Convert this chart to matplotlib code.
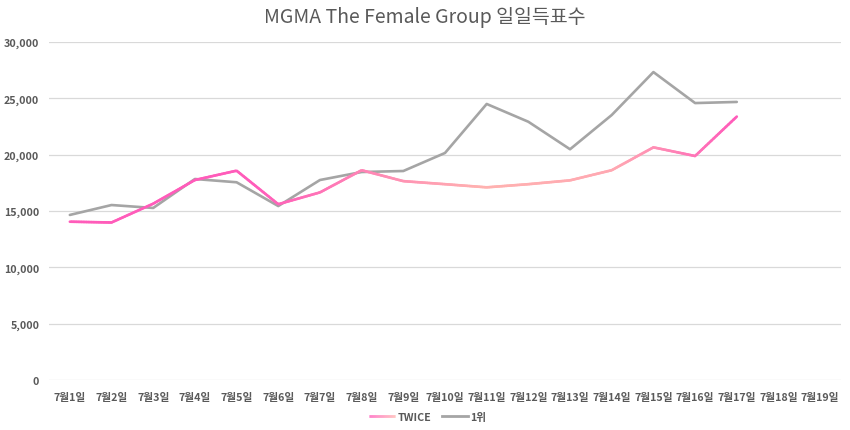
import numpy as np
import matplotlib
matplotlib.use("Agg")
import matplotlib.pyplot as plt
from matplotlib.collections import LineCollection
from matplotlib.colors import LinearSegmentedColormap
from matplotlib.legend_handler import HandlerLineCollection
from matplotlib.lines import Line2D

plt.rcParams['font.family'] = ['Noto Sans CJK KR', 'DejaVu Sans']

categories = ["7월1일", "7월2일", "7월3일", "7월4일", "7월5일", "7월6일", "7월7일", "7월8일",
              "7월9일", "7월10일", "7월11일", "7월12일", "7월13일", "7월14일", "7월15일",
              "7월16일", "7월17일", "7월18일", "7월19일"]
twice = [14050, 13980, 15650, 17750, 18580, 15600, 16650, 18620, 17650, 17380, 17100,
         17380, 17720, 18620, 20650, 19880, 23380]
first = [14650, 15530, 15270, 17840, 17550, 15440, 17750, 18460, 18550, 20150, 24500,
         22920, 20480, 23520, 27330, 24580, 24680]
yticks = [0, 5000, 10000, 15000, 20000, 25000, 30000]
title = "MGMA The Female Group 일일득표수"

text_col = "#595959"
gray = "#A5A5A5"
cmap = LinearSegmentedColormap.from_list(
    "tw", [(0.0, "#FF5CBA"), (0.28, "#FF5CBA"), (0.62, "#FFB2B0"),
           (0.82, "#FFA8B2"), (1.0, "#FF5CBA")])

fig = plt.figure(figsize=(8.5, 4.31), dpi=100)
ax = fig.add_axes([49/850, 1-381/431, (841-49)/850, (381-43)/431])

x = np.arange(len(categories))
xt = x[:len(twice)]
fine_x = np.linspace(0, len(twice)-1, 400)
fine_y = np.interp(fine_x, xt, twice)
fp = np.array([fine_x, fine_y]).T.reshape(-1, 1, 2)
segs = np.concatenate([fp[:-1], fp[1:]], axis=1)
lc = LineCollection(segs, cmap=cmap, linewidth=1.9, capstyle='round', zorder=3)
lc.set_array(fine_x[:-1] / (len(twice)-1))
ax.add_collection(lc)

ax.plot(x[:len(first)], first, color=gray, linewidth=1.9, zorder=2,
        solid_capstyle='round', solid_joinstyle='round')

ax.set_xlim(-0.5, len(categories)-0.5)
ax.set_ylim(0, 30000)
ax.set_yticks(yticks)
ax.set_yticklabels([f"{v:,}" for v in yticks])
ax.set_xticks(x)
ax.set_xticklabels(categories)
ax.grid(axis='y', color="#D9D9D9", linewidth=0.9)
ax.set_axisbelow(True)
for s in ax.spines.values():
    s.set_visible(False)
ax.tick_params(length=0)
ax.tick_params(axis='y', pad=7)
ax.tick_params(axis='x', pad=9)
for lab in ax.get_xticklabels() + ax.get_yticklabels():
    lab.set_fontweight('bold')
    lab.set_color(text_col)
    lab.set_fontsize(7.7)

fig.text(0.5, 1-17/431, title, ha='center', va='center', fontsize=14,
         color=text_col, fontweight='medium')

leg_lc = LineCollection([np.array([[0, 0], [1, 0]])], cmap=cmap, linewidth=2.0)
class GradHandler(HandlerLineCollection):
    def create_artists(self, legend, orig_handle, xdescent, ydescent, width,
                       height, fontsize, trans):
        xs = np.linspace(0, width, 30)
        ys = np.full_like(xs, height/2)
        p = np.array([xs, ys]).T.reshape(-1, 1, 2)
        sg = np.concatenate([p[:-1], p[1:]], axis=1)
        c = LineCollection(sg, cmap=LinearSegmentedColormap.from_list(
            "lg", ["#FF5CBA", "#FFB2B0"]), transform=trans, linewidth=2.0)
        c.set_array(np.linspace(0, 1, len(sg)))
        return [c]

g_handle = Line2D([], [], color=gray, linewidth=2.0)
fig.legend([leg_lc, g_handle], ["TWICE", "1위"],
           handler_map={LineCollection: GradHandler()},
           loc='center', bbox_to_anchor=(428/850, 1-418/431), ncol=2,
           frameon=False, prop={'size': 7.7, 'weight': 'bold'},
           labelcolor=text_col, handlelength=2.4, handletextpad=0.25,
           columnspacing=1.0)

fig.savefig("out.png", dpi=100, facecolor='white')
